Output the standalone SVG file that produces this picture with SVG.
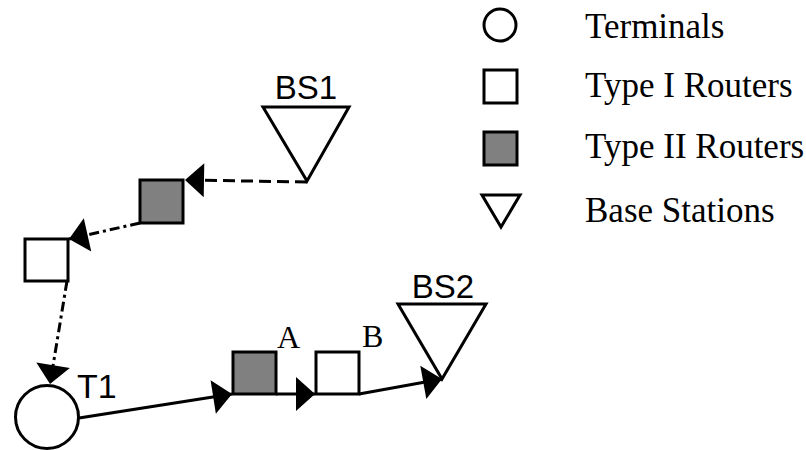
<svg xmlns="http://www.w3.org/2000/svg" width="806" height="450" viewBox="0 0 806 450">
<style>
.n{fill:#fff;stroke:#000;stroke-width:3}
.g{fill:#808080;stroke:#000;stroke-width:3}
.c{fill:none;stroke:#000;stroke-width:3}
.dash{stroke-dasharray:12 6}
.dd{stroke-dasharray:10 4 3 4}
.sans{font-family:"Liberation Sans",Arial,sans-serif;font-size:33px;fill:#000}
.serif{font-family:"Liberation Serif","Times New Roman",serif;font-size:35px;fill:#000}
</style>
<defs>
<marker id="ah" viewBox="-22 -20 24 40" refX="0" refY="0" markerWidth="24" markerHeight="40" markerUnits="userSpaceOnUse" orient="auto">
<path d="M0,0 L-19,-17 L-19,17 Z" fill="#000"/>
</marker>
</defs>
<rect width="806" height="450" fill="#fff"/>
<g id="connectors">
<path class="c dash" d="M307,182 L185,180" marker-end="url(#ah)"/>
<path class="c dd" d="M140,223 L69,239" marker-end="url(#ah)"/>
<path class="c dd" d="M67,281 L50,384" marker-end="url(#ah)"/>
<path class="c" d="M79,418 L232,394" marker-end="url(#ah)"/>
<path class="c" d="M276,394 L315,394" marker-end="url(#ah)"/>
<path class="c" d="M359,394 L442,379" marker-end="url(#ah)"/>
</g>
<g id="BS1">
<path class="n" d="M263,107 L349,107 L307,181 Z"/>
<text class="sans" x="306" y="99" text-anchor="middle">BS1</text>
</g>
<g id="router-typeII-1"><rect class="g" x="140" y="180" width="43" height="43"/></g>
<g id="router-typeI-1"><rect class="n" x="25" y="239" width="43" height="42"/></g>
<g id="T1">
<circle class="n" cx="47" cy="417" r="31.5"/>
<text class="sans" x="77" y="398" style="font-size:34px">T1</text>
</g>
<g id="A">
<rect class="g" x="233" y="352" width="43" height="42"/>
<text class="serif" x="277" y="348" style="font-size:32px">A</text>
</g>
<g id="B">
<rect class="n" x="316" y="352" width="43" height="42"/>
<text class="serif" x="362" y="347" style="font-size:32px">B</text>
</g>
<g id="BS2">
<path class="n" d="M398,304 L486,304 L442,379 Z"/>
<text class="sans" x="443" y="298" text-anchor="middle">BS2</text>
</g>
<g id="legend">
<circle class="n" cx="500" cy="25" r="16"/>
<text class="serif" x="585" y="38">Terminals</text>
<rect class="n" x="484" y="70" width="33" height="33"/>
<text class="serif" x="585" y="97">Type I Routers</text>
<rect class="g" x="484" y="132" width="33" height="33"/>
<text class="serif" x="585" y="158">Type II Routers</text>
<path class="n" d="M482,195 L520,195 L501,227 Z"/>
<text class="serif" x="585" y="222">Base Stations</text>
</g>
</svg>
